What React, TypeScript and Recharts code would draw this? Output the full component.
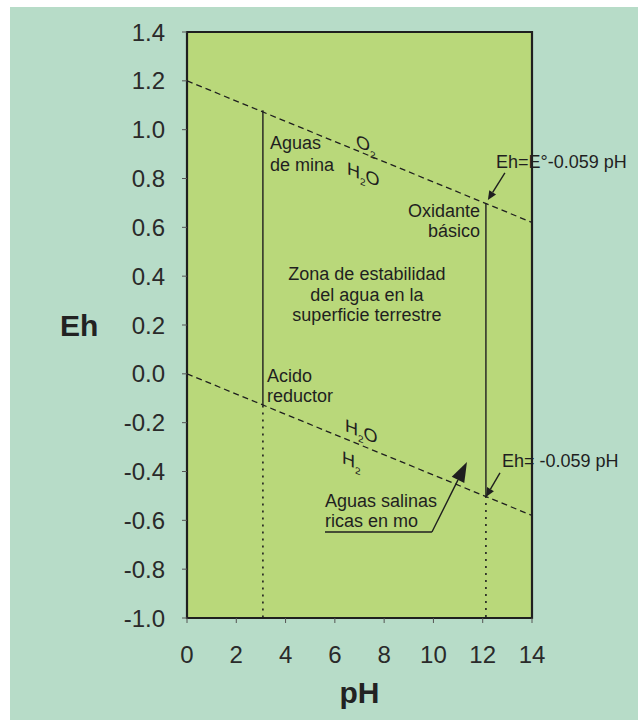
import { ComposedChart, XAxis, YAxis, Line, CartesianGrid, ReferenceArea, ReferenceLine, ReferenceDot } from "recharts";

const FONT = '"Liberation Sans", Arial, sans-serif';
const INK = "#1f1f1f";

// axis ticks
const phTicks = [0, 2, 4, 6, 8, 10, 12, 14];
const ehTicks = [-1.0, -0.8, -0.6, -0.4, -0.2, 0.0, 0.2, 0.4, 0.6, 0.8, 1.0, 1.2, 1.4];

// water stability limits (dashed)
const upperBoundary = [{ pH: 0, Eh: 1.2 }, { pH: 14, Eh: 0.62 }];
const lowerBoundary = [{ pH: 0, Eh: 0 }, { pH: 14, Eh: -0.58 }];

// natural water ranges (solid part inside the field, dotted below it)
const acidSolid = [{ pH: 3.08, Eh: 1.08 }, { pH: 3.08, Eh: -0.13 }];
const acidDotted = [{ pH: 3.08, Eh: -0.13 }, { pH: 3.08, Eh: -1.0 }];
const basicSolid = [{ pH: 12.13, Eh: 0.7 }, { pH: 12.13, Eh: -0.5 }];
const basicDotted = [{ pH: 12.13, Eh: -0.5 }, { pH: 12.13, Eh: -1.0 }];

// arrows: from -> tip
const upperArrow = [{ x: 12.9, y: 0.823 }, { x: 12.21, y: 0.712 }];
const lowerArrow = [{ x: 12.7, y: -0.406 }, { x: 12.13, y: -0.504 }];
const salineUnderline = [{ x: 5.6, y: -0.648 }, { x: 9.94, y: -0.648 }];
const salineArrow = [{ x: 9.94, y: -0.648 }, { x: 11.36, y: -0.361 }];

// text notes
const notes = [
  { pH: 3.37, Eh: 0.921, text: "Aguas", anchor: "start" },
  { pH: 3.37, Eh: 0.831, text: "de mina", anchor: "start" },
  { pH: 11.89, Eh: 0.642, text: "Oxidante", anchor: "end" },
  { pH: 11.89, Eh: 0.56, text: "básico", anchor: "end" },
  { pH: 7.3, Eh: 0.384, text: "Zona de estabilidad", anchor: "middle" },
  { pH: 7.3, Eh: 0.298, text: "del agua en la", anchor: "middle" },
  { pH: 7.3, Eh: 0.216, text: "superficie terrestre", anchor: "middle" },
  { pH: 3.25, Eh: -0.033, text: "Acido", anchor: "start" },
  { pH: 3.25, Eh: -0.115, text: "reductor", anchor: "start" },
  { pH: 12.54, Eh: 0.843, text: "Eh=E°-0.059 pH", anchor: "start" },
  { pH: 12.78, Eh: -0.382, text: "Eh= -0.059 pH", anchor: "start" },
  { pH: 5.6, Eh: -0.545, text: "Aguas salinas", anchor: "start" },
  { pH: 5.6, Eh: -0.627, text: "ricas en mo", anchor: "start" },
];

// species labels along the dashed lines: [main, subscript, tail]
const species = [
  { pH: 6.86, Eh: 0.931, parts: ["O", "2", ""] },
  { pH: 6.49, Eh: 0.818, parts: ["H", "2", "O"] },
  { pH: 6.41, Eh: -0.234, parts: ["H", "2", "O"] },
  { pH: 6.29, Eh: -0.365, parts: ["H", "2", ""] },
];

const noteShape = (text: string, anchor: string) => (p: any) => (
  <text x={p.cx} y={p.cy} textAnchor={anchor} fontSize={18} fontFamily={FONT} fill={INK}>
    {text}
  </text>
);

// sheared so the letters follow the slope of the dashed line
const speciesShape = (parts: string[]) => (p: any) => (
  <text
    x={0}
    y={0}
    fontSize={18}
    fontFamily={FONT}
    fill={INK}
    transform={`translate(${p.cx} ${p.cy}) skewY(22)`}
  >
    <tspan>{parts[0]}</tspan>
    <tspan fontSize={10} dy={5}>{parts[1]}</tspan>
    {parts[2] ? <tspan dy={-5}>{parts[2]}</tspan> : null}
  </text>
);

const arrowShape = (head: number, half: number, withHead = true) => (p: any) => {
  const { x1, y1, x2, y2 } = p;
  const a = Math.atan2(y2 - y1, x2 - x1);
  const c = Math.cos(a);
  const s = Math.sin(a);
  const bx = withHead ? x2 - head * c : x2;
  const by = withHead ? y2 - head * s : y2;
  return (
    <g>
      <line x1={x1} y1={y1} x2={bx} y2={by} stroke={INK} strokeWidth={1.4} />
      {withHead ? (
        <polygon
          points={`${x2},${y2} ${bx - half * s},${by + half * c} ${bx + half * s},${by - half * c}`}
          fill={INK}
        />
      ) : null}
    </g>
  );
};

export default function App() {
  return (
    <div style={{ position: "relative", width: 638, height: 720, background: "#fff", overflow: "hidden" }}>
      <style>{`body{margin:0}`}</style>
      <div style={{ position: "absolute", left: 10, top: 7, right: 0, bottom: 0, background: "#b7dcc8" }} />
      <div style={{ position: "absolute", left: 0, top: 0 }}>
        <ComposedChart width={638} height={720} margin={{ top: 32, right: 106, bottom: 0, left: 0 }}>
          <CartesianGrid horizontal={false} vertical={false} fill="#b9d87a" stroke="none" />
          <XAxis
            type="number"
            dataKey="pH"
            domain={[0, 14]}
            ticks={phTicks}
            height={102}
            axisLine={false}
            tickSize={5}
            tickMargin={23}
            tickLine={{ stroke: "#555" }}
            tick={{ fontSize: 24, fill: "#2a2a2a", fontFamily: FONT }}
            allowDataOverflow
            label={{ value: "pH", position: "insideBottom", offset: 17, fontSize: 30, fontWeight: 700, fill: "#222", fontFamily: FONT }}
          />
          <YAxis
            type="number"
            dataKey="Eh"
            domain={[-1, 1.4]}
            ticks={ehTicks}
            width={187}
            axisLine={false}
            tickSize={5}
            tickMargin={17}
            tickLine={{ stroke: "#555" }}
            tick={{ fontSize: 24, fill: "#2a2a2a", fontFamily: FONT }}
            tickFormatter={(v: number) => v.toFixed(1)}
            allowDataOverflow
            label={{ value: "Eh", position: "insideLeft", offset: 60, fontSize: 30, fontWeight: 700, fill: "#222", fontFamily: FONT }}
          />
          <Line data={upperBoundary} dataKey="Eh" stroke={INK} strokeWidth={1.3} strokeDasharray="6 4" dot={false} activeDot={false} isAnimationActive={false} />
          <Line data={lowerBoundary} dataKey="Eh" stroke={INK} strokeWidth={1.3} strokeDasharray="6 4" dot={false} activeDot={false} isAnimationActive={false} />
          <Line data={acidSolid} dataKey="Eh" stroke={INK} strokeWidth={1.4} dot={false} activeDot={false} isAnimationActive={false} />
          <Line data={acidDotted} dataKey="Eh" stroke={INK} strokeWidth={1.6} strokeDasharray="2 5" dot={false} activeDot={false} isAnimationActive={false} />
          <Line data={basicSolid} dataKey="Eh" stroke={INK} strokeWidth={1.4} dot={false} activeDot={false} isAnimationActive={false} />
          <Line data={basicDotted} dataKey="Eh" stroke={INK} strokeWidth={1.6} strokeDasharray="2 5" dot={false} activeDot={false} isAnimationActive={false} />
          <ReferenceLine segment={upperArrow} shape={arrowShape(9, 4)} />
          <ReferenceLine segment={lowerArrow} shape={arrowShape(9, 4)} />
          <ReferenceLine segment={salineUnderline} shape={arrowShape(0, 0, false)} />
          <ReferenceLine segment={salineArrow} shape={arrowShape(20, 7)} />
          {notes.map((n) => (
            <ReferenceDot key={n.text} x={n.pH} y={n.Eh} r={1} shape={noteShape(n.text, n.anchor)} />
          ))}
          {species.map((s, i) => (
            <ReferenceDot key={"sp" + i} x={s.pH} y={s.Eh} r={1} shape={speciesShape(s.parts)} />
          ))}
          <ReferenceArea x1={0} x2={14} y1={-1} y2={1.4} fill="none" stroke={INK} strokeWidth={2.2} />
        </ComposedChart>
      </div>
    </div>
  );
}
